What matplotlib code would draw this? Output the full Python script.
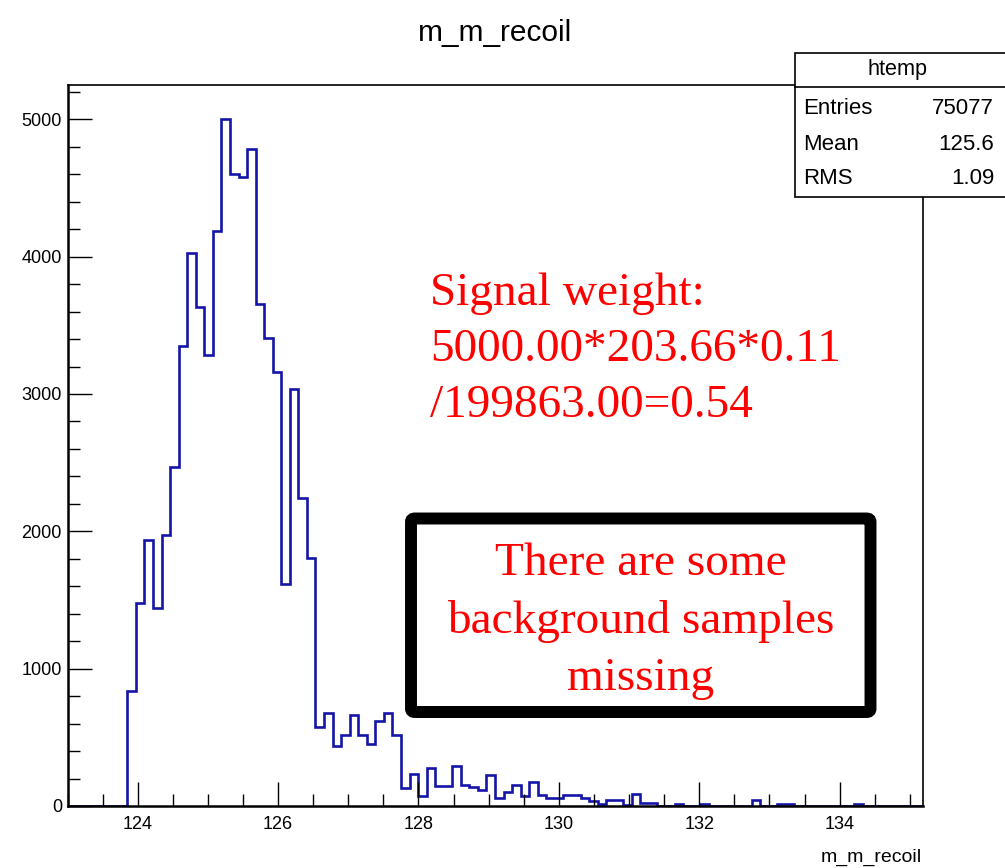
import numpy as np
import matplotlib
matplotlib.use("Agg")
import matplotlib.pyplot as plt
from matplotlib import font_manager
from matplotlib.patches import Rectangle, FancyBboxPatch
from matplotlib.ticker import MultipleLocator, FixedLocator

# ---------------- data ----------------
hist_title = "m_m_recoil"
x_label = "m_m_recoil"
bin_lo, bin_hi, n_bins = 123.0, 135.18, 100
counts = [
    0, 0, 0, 0, 0, 0, 0, 840, 1480, 1935,
    1440, 1975, 2470, 3350, 4025, 3630, 3285, 4190, 5000, 4600,
    4580, 4785, 3655, 3410, 3160, 1620, 3040, 2240, 1805, 575,
    680, 435, 515, 660, 515, 455, 620, 680, 515, 130,
    230, 70, 280, 145, 145, 290, 155, 135, 120, 225,
    55, 100, 155, 75, 175, 80, 55, 55, 80, 80,
    55, 35, 15, 45, 45, 10, 85, 20, 20, 0,
    0, 15, 0, 0, 15, 0, 0, 0, 0, 0,
    45, 0, 0, 15, 15, 0, 0, 0, 0, 0,
    0, 0, 15, 0, 0, 0, 0, 0, 0, 0,
]
x_ticks = [124, 126, 128, 130, 132, 134]
x_tick_labels = ["124", "126", "128", "130", "132", "134"]
y_ticks = [0, 1000, 2000, 3000, 4000, 5000]
y_tick_labels = ["0", "1000", "2000", "3000", "4000", "5000"]
y_max = 5250
stats_name = "htemp"
stats_labels = ["Entries", "Mean", "RMS"]
stats_values = ["75077", "125.6", "1.09"]
note_lines = ["Signal weight:", "5000.00*203.66*0.11", "/199863.00=0.54"]
box_lines = ["There are some", "background samples", "missing"]

# ---------------- fonts ----------------
def has_font(name):
    try:
        font_manager.findfont(font_manager.FontProperties(family=name),
                              fallback_to_default=False)
        return True
    except Exception:
        return False

NARROW = has_font("Liberation Sans Narrow")
narrow_family = "Liberation Sans Narrow" if NARROW else "Liberation Sans"
narrow_scale = 1.0 if NARROW else 0.82
SANS = "Liberation Sans"
SERIF = "Liberation Serif"

W, H = 1005, 868
def fx(x):
    return x / W
def fy(y):
    return 1 - y / H

fig = plt.figure(figsize=(W / 100, H / 100), dpi=100)
fig.patch.set_facecolor("white")

ax_l, ax_r, ax_t, ax_b = 67.5, 922.5, 85, 806
ax = fig.add_axes([fx(ax_l), fy(ax_b), (ax_r - ax_l) / W, (ax_b - ax_t) / H])

edges = np.linspace(bin_lo, bin_hi, n_bins + 1)
ax.stairs(counts, edges, color="#1414a8", linewidth=1.9, baseline=0)

ax.set_xlim(bin_lo, bin_hi)
ax.set_ylim(0, y_max)

ax.xaxis.set_major_locator(FixedLocator(x_ticks))
ax.set_xticklabels(x_tick_labels)
ax.xaxis.set_minor_locator(MultipleLocator(0.5))
ax.yaxis.set_major_locator(FixedLocator(y_ticks))
ax.set_yticklabels(y_tick_labels)
ax.yaxis.set_minor_locator(MultipleLocator(200))

ax.tick_params(which="major", direction="in", length=17.5, width=1.0,
               top=False, right=False, labelsize=13, colors="black")
ax.tick_params(which="minor", direction="in", length=8.5, width=1.0,
               top=False, right=False)
ax.tick_params(axis="x", which="major", pad=7)
ax.tick_params(axis="y", which="major", pad=4)
for lab in ax.get_xticklabels() + ax.get_yticklabels():
    lab.set_family(SANS)
for s in ax.spines.values():
    s.set_linewidth(1.2)
ax.spines["bottom"].set_linewidth(1.8)
ax.spines["left"].set_linewidth(1.8)

# title
fig.text(fx(495), fy(41), hist_title, ha="center", va="baseline",
         fontsize=26 * narrow_scale if NARROW else 21.5,
         family=narrow_family, color="black")
# x-axis label
fig.text(fx(922), fy(862), x_label, ha="right", va="baseline",
         fontsize=14, family=SANS, color="black")

# stats box
sb_l, sb_r, sb_t, sb_b, sb_sep = 795, 1010, 53, 197, 87
fig.patches.append(Rectangle((fx(sb_l), fy(sb_b)), (sb_r - sb_l) / W,
                             (sb_b - sb_t) / H, transform=fig.transFigure,
                             facecolor="white", edgecolor="black",
                             linewidth=1.2, zorder=5))
fig.add_artist(plt.Line2D([fx(sb_l), fx(sb_r)], [fy(sb_sep), fy(sb_sep)],
                          transform=fig.transFigure, color="black",
                          linewidth=1.2, zorder=6))
fig.text(fx(897), fy(70), stats_name, ha="center", va="center",
         fontsize=19 * narrow_scale, family=narrow_family, zorder=7)
row_y = [109, 144, 178]
for lab, val, yy in zip(stats_labels, stats_values, row_y):
    fig.text(fx(803), fy(yy), lab, ha="left", va="center",
             fontsize=19.5 * narrow_scale, family=narrow_family, zorder=7)
    fig.text(fx(994), fy(yy), val, ha="right", va="center",
             fontsize=19.5 * narrow_scale, family=narrow_family, zorder=7)

# red note text
for line, yb in zip(note_lines, [305, 361, 417]):
    fig.text(fx(430), fy(yb), line, ha="left", va="baseline",
             fontsize=34, family=SERIF, color="#ff0000")

# black rounded box with text
bx_l, bx_r, bx_t, bx_b = 411, 870.5, 518.5, 712
box = FancyBboxPatch((fx(bx_l), fy(bx_b)), (bx_r - bx_l) / W,
                     (bx_b - bx_t) / H,
                     boxstyle="round,pad=0,rounding_size=0.004",
                     transform=fig.transFigure, facecolor="white",
                     edgecolor="black", linewidth=8.6, zorder=4)
fig.patches.append(box)
for line, yb in zip(box_lines, [575, 633, 690]):
    fig.text(fx(640.5), fy(yb), line, ha="center", va="baseline",
             fontsize=34, family=SERIF, color="#ff0000", zorder=8)

fig.savefig("out.png", dpi=100, facecolor="white")
